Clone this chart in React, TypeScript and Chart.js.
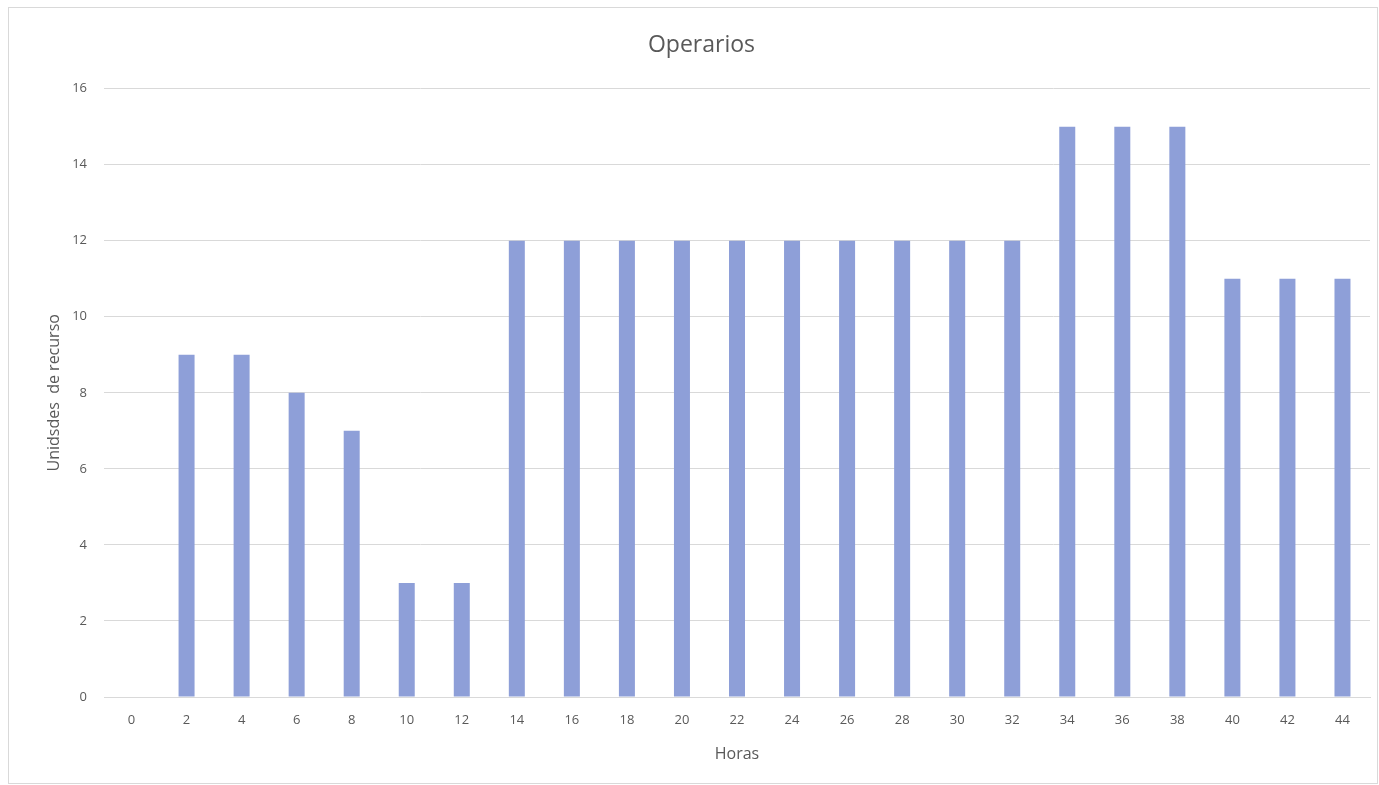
import React, { useEffect, useRef } from "react";
import { Chart, registerables } from "chart.js";

Chart.register(...registerables);

const horas: string[] = [
  "0", "2", "4", "6", "8", "10", "12", "14", "16", "18", "20", "22",
  "24", "26", "28", "30", "32", "34", "36", "38", "40", "42", "44",
];
const operarios: number[] = [
  0, 9, 9, 8, 7, 3, 3, 12, 12, 12, 12, 12,
  12, 12, 12, 12, 12, 15, 15, 15, 11, 11, 11,
];
const yMax = 16;
const yStep = 2;

const FONT = "'Open Sans', 'Noto Sans', sans-serif";
const TEXT = "#595959";
const GRID = "#d9d9d9";

export default function App() {
  const canvasRef = useRef<HTMLCanvasElement | null>(null);

  useEffect(() => {
    const canvas = canvasRef.current;
    if (!canvas) return;
    const chart = new Chart(canvas, {
      type: "bar",
      data: {
        labels: horas,
        datasets: [
          {
            label: "Operarios",
            data: operarios,
            backgroundColor: "#8e9fd8",
            borderWidth: 0,
            inflateAmount: 0,
            barThickness: 16,
          },
        ],
      },
      options: {
        animation: false,
        responsive: false,
        layout: { padding: { left: 24, right: 7, top: 0, bottom: 0 } },
        plugins: {
          legend: { display: false },
          tooltip: { enabled: false },
          title: {
            display: true,
            text: "Operarios",
            color: TEXT,
            font: { family: FONT, size: 23, weight: "normal" },
            padding: { top: 24, bottom: 29 },
          },
        },
        scales: {
          x: {
            grid: { display: false, drawTicks: false },
            border: { display: true, color: GRID, width: 1 },
            ticks: {
              color: TEXT,
              font: { family: FONT, size: 13 },
              padding: 15,
              maxRotation: 0,
              autoSkip: false,
            },
            title: {
              display: true,
              text: "Horas",
              color: TEXT,
              font: { family: FONT, size: 16 },
              padding: { top: 0, bottom: 19 },
            },
            afterFit: (scale: any) => {
              scale.height = 86;
            },
          },
          y: {
            min: 0,
            max: yMax,
            ticks: {
              stepSize: yStep,
              color: TEXT,
              font: { family: FONT, size: 13 },
              padding: 17,
            },
            grid: { color: GRID, drawTicks: false, lineWidth: 1 },
            border: { display: false },
            title: {
              display: true,
              text: "Unidsdes  de recurso",
              color: TEXT,
              font: { family: FONT, size: 16 },
              padding: { top: 12, bottom: 0 },
            },
            afterFit: (scale: any) => {
              scale.width = 71;
            },
          },
        },
      },
    });
    return () => chart.destroy();
  }, []);

  return (
    <div
      style={{
        position: "absolute",
        left: 8,
        top: 7,
        width: 1370,
        height: 777,
        boxSizing: "border-box",
        border: "1px solid #d9d9d9",
        background: "#ffffff",
      }}
    >
      <canvas
        ref={canvasRef}
        width={1368}
        height={775}
        style={{ display: "block", width: 1368, height: 775 }}
      />
    </div>
  );
}
